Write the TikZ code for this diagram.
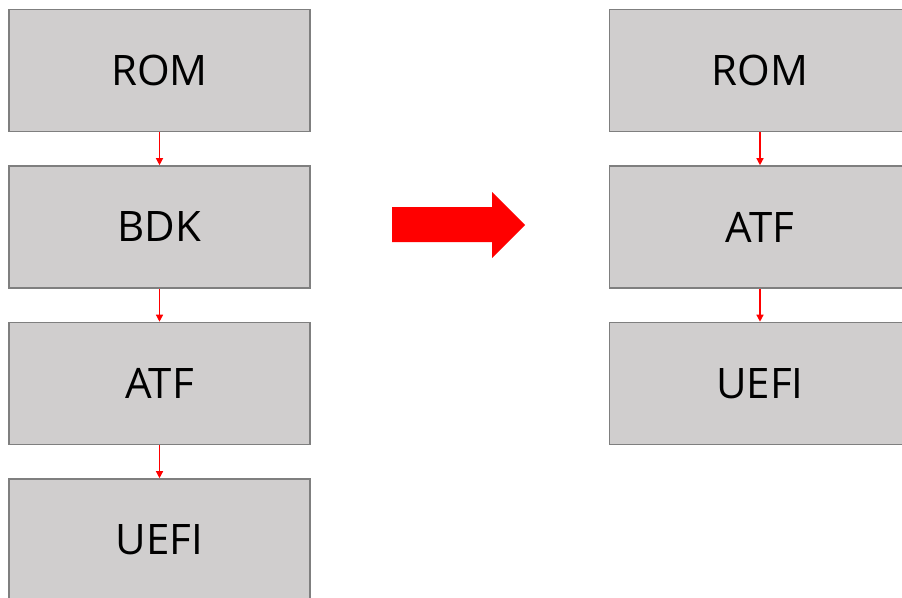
\documentclass[tikz,border=0pt]{standalone}
\usepackage{fontspec}
\setmainfont{Open Sans}
\usetikzlibrary{arrows.meta}
\definecolor{boxfill}{RGB}{208,206,206}
\definecolor{boxline}{RGB}{127,127,127}
\begin{document}
\begin{tikzpicture}[x=1pt,y=-1pt,
  stage/.style={draw=boxline, line width=1.6pt, fill=boxfill,
    minimum width=301pt, minimum height=122pt, inner sep=0pt,
    font=\fontsize{42}{50}\selectfont},
  link/.style={draw=red, line width=1.3pt, -{Triangle[length=7pt,width=7pt]}}]
\useasboundingbox (0,0) rectangle (902,597);
% left chain
\node[stage] (lrom) at (159.5,70.5) {ROM};
\node[stage] (lbdk) at (159.5,227) {BDK};
\node[stage] (latf) at (159.5,383.5) {ATF};
\node[stage] (luefi) at (159.5,540) {UEFI};
\draw[link] (lrom.south) -- (lbdk.north);
\draw[link] (lbdk.south) -- (latf.north);
\draw[link] (latf.south) -- (luefi.north);
% right chain
\node[stage] (rrom) at (760,70.5) {ROM};
\node[stage] (ratf) at (760,227) {ATF};
\node[stage] (ruefi) at (760,383.5) {UEFI};
\draw[link] (rrom.south) -- (ratf.north);
\draw[link] (ratf.south) -- (ruefi.north);
% block arrow between the chains
\fill[red] (392,207) -- (492,207) -- (492,192) -- (525,225) -- (492,258)
  -- (492,242) -- (392,242) -- cycle;
\end{tikzpicture}
\end{document}
